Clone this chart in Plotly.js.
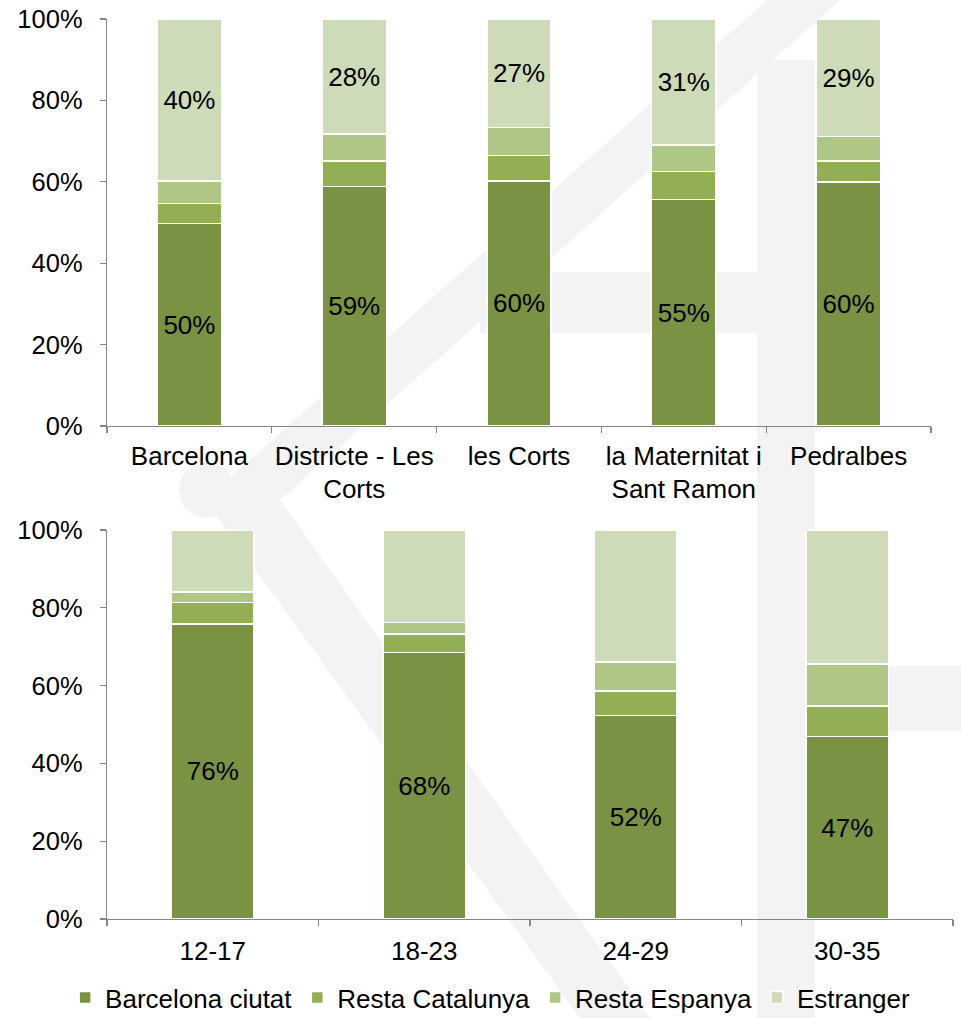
<!DOCTYPE html>
<html>
<head>
<meta charset="utf-8">
<script src="https://cdn.plot.ly/plotly-3.0.1.min.js"></script>
<style>html,body{margin:0;padding:0;background:#fff;}#chart{width:961px;height:1018px;}</style>
</head>
<body>
<div id="chart"></div>
<script>
// Top chart: by area
const areaCats = ["Barcelona", "Districte - Les<br>Corts", "les Corts", "la Maternitat i<br>Sant Ramon", "Pedralbes"];
const areaBcn  = [49.8, 58.8, 60.2, 55.7, 60.0];
const areaCat  = [4.9, 6.3, 6.3, 6.8, 5.1];
const areaEsp  = [5.5, 6.6, 6.8, 6.5, 6.0];
const areaEstr = [39.8, 28.3, 26.7, 31.0, 28.9];
const areaBcnLabels  = ["50%", "59%", "60%", "55%", "60%"];
const areaEstrLabels = ["40%", "28%", "27%", "31%", "29%"];

// Bottom chart: by age group
const ageCats = ["12-17", "18-23", "24-29", "30-35"];
const ageBcn  = [75.9, 68.5, 52.3, 46.9];
const ageCat  = [5.4, 4.8, 6.3, 7.9];
const ageEsp  = [2.8, 2.9, 7.5, 10.8];
const ageEstr = [15.9, 23.8, 33.9, 34.4];
const ageBcnLabels = ["76%", "68%", "52%", "47%"];

const seriesNames = ["Barcelona ciutat", "Resta Catalunya", "Resta Espanya", "Estranger"];
const colors = ["#7a9244", "#93af55", "#aec686", "#cedbb8"];

const FONT = "Liberation Sans, Arial, sans-serif";
const FS = 26;
const W = 961, H = 1018;

function mk(x, y, i, xa, ya, text, show) {
  const t = {
    type: "bar", x: x, y: y, name: seriesNames[i], xaxis: xa, yaxis: ya,
    legendgroup: "g" + i, showlegend: show,
    marker: {color: colors[i], line: {color: "#ffffff", width: 1.5}},
    width: 0.39, hoverinfo: "skip",
    cliponaxis: false
  };
  if (text) {
    t.text = text; t.textposition = "inside"; t.insidetextanchor = "middle";
    t.textangle = 0; t.textfont = {family: FONT, size: FS, color: "#000"};
    t.constraintext = "none";
  } else {
    t.textposition = "none";
  }
  return t;
}

const data = [
  mk(areaCats, areaBcn, 0, "x", "y", areaBcnLabels, true),
  mk(areaCats, areaCat, 1, "x", "y", null, true),
  mk(areaCats, areaEsp, 2, "x", "y", null, true),
  mk(areaCats, areaEstr, 3, "x", "y", areaEstrLabels, true),
  mk(ageCats, ageBcn, 0, "x2", "y2", ageBcnLabels, false),
  mk(ageCats, ageCat, 1, "x2", "y2", null, false),
  mk(ageCats, ageEsp, 2, "x2", "y2", null, false),
  mk(ageCats, ageEstr, 3, "x2", "y2", null, false)
];

const xaxisBase = {
  type: "category", showgrid: false, zeroline: false,
  showline: true, linecolor: "#868686", linewidth: 1.3,
  ticks: "outside", tickson: "boundaries", ticklen: 6, tickcolor: "#868686", tickwidth: 1.3,
  tickangle: 0, automargin: false,
  tickfont: {family: FONT, size: FS, color: "#000"}, fixedrange: true
};
const yaxisBase = {
  range: [0, 100], showgrid: false, zeroline: false,
  showline: true, linecolor: "#868686", linewidth: 1.3,
  ticks: "outside", ticklen: 6, tickcolor: "#868686", tickwidth: 1.3,
  tickvals: [0, 20, 40, 60, 80, 100], ticktext: ["0%", "20%", "40%", "60%", "80%", "100%"],
  tickfont: {family: FONT, size: 25.5, color: "#000"}, fixedrange: true,
  ticklabelstandoff: 12, automargin: false
};

// faint background watermark (logo), drawn below the chart
const wm = "#f3f3f3";
function px(pts) {
  return pts.map((p, k) => (k ? "L" : "M") + (p[0] / W).toFixed(4) + "," + (1 - p[1] / H).toFixed(4)).join(" ") + " Z";
}
const shapes = [
  {type: "path", xref: "paper", yref: "paper", layer: "below", fillcolor: wm, line: {width: 0},
   path: px([[767,0],[840,0],[280,500],[650,1018],[580,1018],[205,500]])},
  {type: "circle", xref: "paper", yref: "paper", layer: "below", fillcolor: wm, line: {width: 0},
   x0: 179/W, x1: 235/W, y0: 1-518/H, y1: 1-462/H},
  {type: "rect", xref: "paper", yref: "paper", layer: "below", fillcolor: wm, line: {width: 0},
   x0: 757/W, x1: 815/W, y0: 0, y1: 1-60/H},
  {type: "rect", xref: "paper", yref: "paper", layer: "below", fillcolor: wm, line: {width: 0},
   x0: 480/W, x1: 815/W, y0: 1-333/H, y1: 1-272/H},
  {type: "rect", xref: "paper", yref: "paper", layer: "below", fillcolor: wm, line: {width: 0},
   x0: 880/W, x1: 961/W, y0: 1-731/H, y1: 1-666/H}
];

const layout = {
  width: W, height: H,
  margin: {l: 0, r: 0, t: 0, b: 0, autoexpand: false},
  paper_bgcolor: "#fff", plot_bgcolor: "rgba(0,0,0,0)",
  barmode: "stack", bargap: 0.61,
  font: {family: FONT, size: FS, color: "#000"},
  xaxis: Object.assign({}, xaxisBase, {domain: [107 / W, 931 / W], anchor: "y", ticklabelstandoff: 6}),
  yaxis: Object.assign({}, yaxisBase, {domain: [1 - 426 / H, 1 - 19 / H], anchor: "x"}),
  xaxis2: Object.assign({}, xaxisBase, {domain: [107 / W, 953 / W], anchor: "y2", ticklabelstandoff: 8}),
  yaxis2: Object.assign({}, yaxisBase, {domain: [1 - 919 / H, 1 - 530 / H], anchor: "x2"}),
  legend: {
    orientation: "h", x: 0.51, xanchor: "center", y: -3 / H, yanchor: "bottom",
    font: {family: FONT, size: FS, color: "#000"}, itemwidth: 30, traceorder: "normal",
    bgcolor: "rgba(0,0,0,0)"
  },
  shapes: shapes,
  showlegend: true
};

Plotly.newPlot("chart", data, layout, {displayModeBar: false, staticPlot: true});
</script>
</body>
</html>
